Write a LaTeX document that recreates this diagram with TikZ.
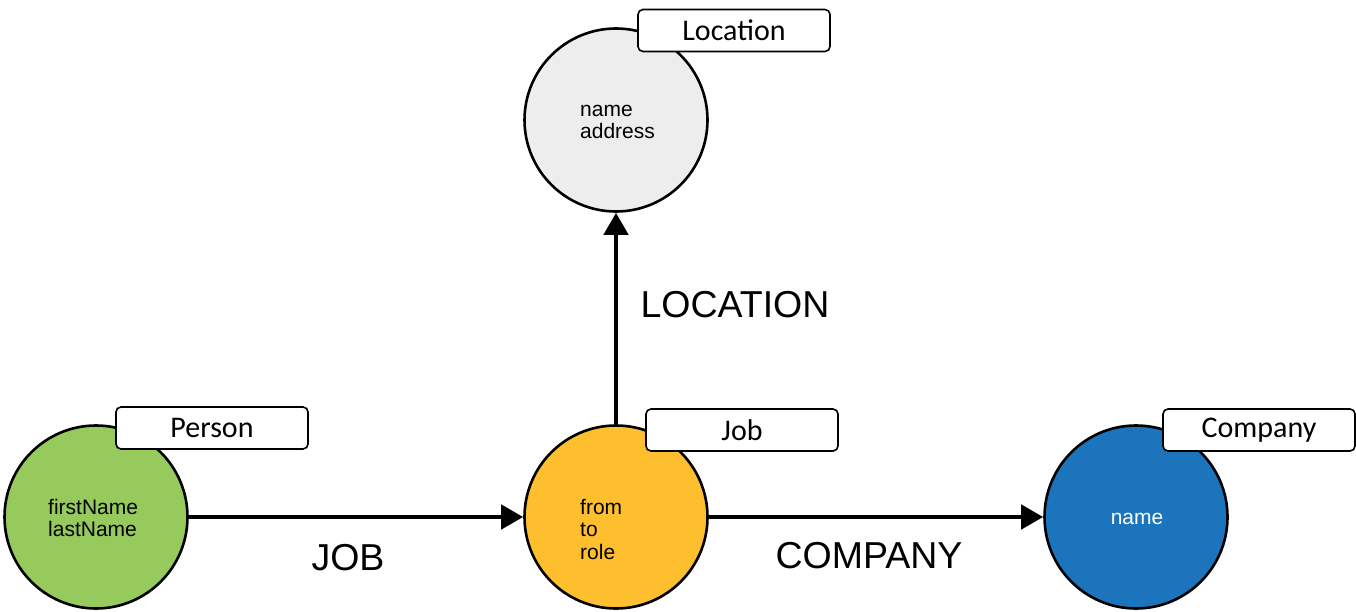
\documentclass[tikz,border=0pt]{standalone}
\usepackage{fontspec}
\setmainfont{Liberation Sans}
\newfontfamily\calib{Carlito}
\usetikzlibrary{arrows.meta}
\definecolor{persongreen}{RGB}{150,202,92}
\definecolor{jobyellow}{RGB}{253,191,45}
\definecolor{compblue}{RGB}{28,117,188}
\definecolor{locgrey}{RGB}{237,237,237}
\tikzset{
  entity/.style={circle, draw=black, line width=2.6pt, minimum size=183pt, inner sep=0pt},
  tagbox/.style={draw=black, line width=1.6pt, fill=white, rounded corners=5pt, minimum width=192pt, minimum height=42pt, inner sep=0pt, font=\calib\fontsize{30}{33}\selectfont},
  props/.style={anchor=west, align=left, inner sep=0pt, font=\fontsize{21}{22}\selectfont},
  rel/.style={line width=4.5pt, -{Triangle[length=22pt,width=24pt]}},
  rellabel/.style={inner sep=0pt, font=\fontsize{37.5}{42}\selectfont}
}
\begin{document}
\begin{tikzpicture}[x=1pt,y=-1pt]
\useasboundingbox (0,0) rectangle (1356,612);
\node[entity, fill=persongreen] (person) at (96,517) {};
\node[entity, fill=jobyellow] (job) at (616,517) {};
\node[entity, fill=compblue] (company) at (1136,517) {};
\node[entity, fill=locgrey] (location) at (616,120) {};
\node[props] (pp) at (48,517.5) {firstName\\lastName};
\node[props] (jp) at (580,529.5) {from\\to\\role};
\node[props, anchor=center, text=white] (cp) at (1137,519) {name};
\node[props] (lp) at (580,122) {name\\address};
\draw[rel] (person) -- (job);
\draw[rel] (job) -- (company);
\draw[rel] (job) -- (location);
\node[tagbox] (persontag) at (212,428) {Person};
\node[tagbox] (jobtag) at (742,430) {Job};
\node[tagbox] (companytag) at (1259,430) {Company};
\node[tagbox] (locationtag) at (734,30.5) {Location};
\node[rellabel] (joblbl) at (348,558) {JOB};
\node[rellabel] (complbl) at (869,556) {COMPANY};
\node[rellabel] (loclbl) at (735,305) {LOCATION};
\end{tikzpicture}
\end{document}
